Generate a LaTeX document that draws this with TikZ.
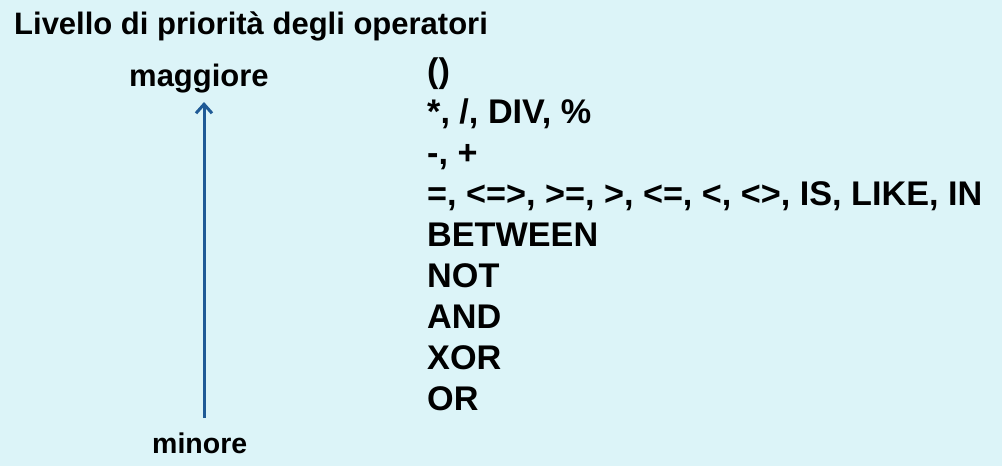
\documentclass[tikz,border=0pt]{standalone}
\usepackage{fontspec}
\setmainfont{Liberation Sans}
\usetikzlibrary{arrows.meta}
\definecolor{bgc}{HTML}{DCF4F8}
\definecolor{arrc}{HTML}{1F5A96}
\tikzset{
  lbl/.style={anchor=base west, inner sep=0pt, font=\bfseries, text=black},
  ops/.style={anchor=base west, inner sep=0pt, align=left, text=black,
    font=\fontsize{34.2}{41}\selectfont\bfseries},
  scale arrow/.style={draw=arrc, line width=3pt, -{Straight Barb[length=9pt,width=16pt]}}
}
\begin{document}
\begin{tikzpicture}[x=1pt,y=-1pt]
\fill[bgc] (0,0) rectangle (1002,466);
\useasboundingbox (0,0) rectangle (1002,466);
\node[lbl, font=\fontsize{31}{36}\selectfont\bfseries] (title) at (14,34) {Livello di priorità degli operatori};
\node[lbl, font=\fontsize{31}{36}\selectfont\bfseries] (hi) at (129,86) {maggiore};
\node[lbl, font=\fontsize{28.5}{34}\selectfont\bfseries] (lo) at (152,453) {minore};
\node[ops] (list) at (427,410) {()\\*, /, DIV, \%\\-, +\\=, <=>, >=, >, <=, <, <>, IS, LIKE, IN\\BETWEEN\\NOT\\AND\\XOR\\OR};
\coordinate (abot) at (204,418);
\coordinate (atop) at (204,102);
\draw[scale arrow] (abot) -- (atop);
\end{tikzpicture}
\end{document}
